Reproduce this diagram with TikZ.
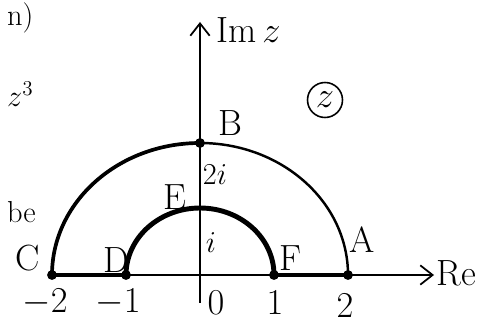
\documentclass[tikz,border=0pt]{standalone}
\usetikzlibrary{arrows.meta}
\tikzset{
  axisline/.style={line width=1pt,-{Straight Barb[length=7pt,width=11pt]}},
  pathline/.style={line width=2.8pt,line cap=round},
  ptlabel/.style={font=\huge},
  ticklabel/.style={font=\huge},
}

\begin{document}
\begin{tikzpicture}
  \useasboundingbox (-4.0,-1.14) rectangle (5.62,5.5);
  \clip (-4.0,-1.14) rectangle (5.62,5.5);

  % points of the contour
  \coordinate (O) at (0,0);
  \coordinate (A) at (2.96,0);
  \coordinate (B) at (0,2.64);
  \coordinate (C) at (-2.96,0);
  \coordinate (D) at (-1.48,0);
  \coordinate (E) at (0,1.34);
  \coordinate (F) at (1.48,0);
  \coordinate (reEnd) at (4.68,0);
  \coordinate (imStart) at (0,-0.55);
  \coordinate (imEnd) at (0,5.06);

  % axes
  \draw[axisline] (C) -- (reEnd);
  \draw[axisline] (imStart) -- (imEnd);

  % outer half circle
  \draw[line width=1.4pt] (A) arc[start angle=0,end angle=180,x radius=2.96,y radius=2.64];
  \draw[line width=2.1pt] (B) arc[start angle=90,end angle=180,x radius=2.96,y radius=2.64];
  % inner half circle
  \draw[pathline] (F) arc[start angle=0,end angle=180,x radius=1.48,y radius=1.34];
  % pieces on the real axis
  \draw[pathline] (C) -- (D);
  \draw[pathline] (F) -- (A);

  \foreach \p in {A,B,C,D,F}{
    \fill (\p) circle (2.8pt);
  }

  % labels
  \node[ptlabel] (lblA) at (3.24,0.7) {A};
  \node[ptlabel] (lblB) at (0.6,3.04) {B};
  \node[ptlabel] (lblC) at (-3.44,0.34) {C};
  \node[ptlabel] (lblD) at (-1.68,0.3) {D};
  \node[ptlabel] (lblE) at (-0.5,1.56) {E};
  \node[ptlabel] (lblF) at (1.8,0.34) {F};
  \node[font=\LARGE] (lbl2i) at (0.3,2.0) {$2i$};
  \node[font=\LARGE] (lbli) at (0.22,0.64) {$i$};

  \node[ticklabel] (tm2) at (-3.1,-0.55) {$-2$};
  \node[ticklabel] (tm1) at (-1.64,-0.55) {$-1$};
  \node[ticklabel] (t0) at (0.32,-0.55) {$0$};
  \node[ticklabel] (t1) at (1.5,-0.55) {$1$};
  \node[ticklabel] (t2) at (2.9,-0.62) {$2$};

  \node[font=\huge,anchor=west,inner sep=0pt] (lblRe) at (4.73,0.04) {Re};
  \node[font=\huge,anchor=west] (lblIm) at (0.2,4.9) {Im\,$z$};
  \node[draw,circle,line width=0.9pt,font=\huge,inner sep=1pt,minimum size=0.7cm] (zc) at (2.5,3.5) {$z$};

  % text at the left margin
  \node[font=\LARGE,anchor=base west] (txtn) at (-3.98,4.98) {n)};
  \node[font=\LARGE,anchor=west] (txtz) at (-3.98,3.62) {$z^3$};
  \node[font=\LARGE,anchor=base west] (txtbe) at (-3.98,1.06) {be};
\end{tikzpicture}
\end{document}
